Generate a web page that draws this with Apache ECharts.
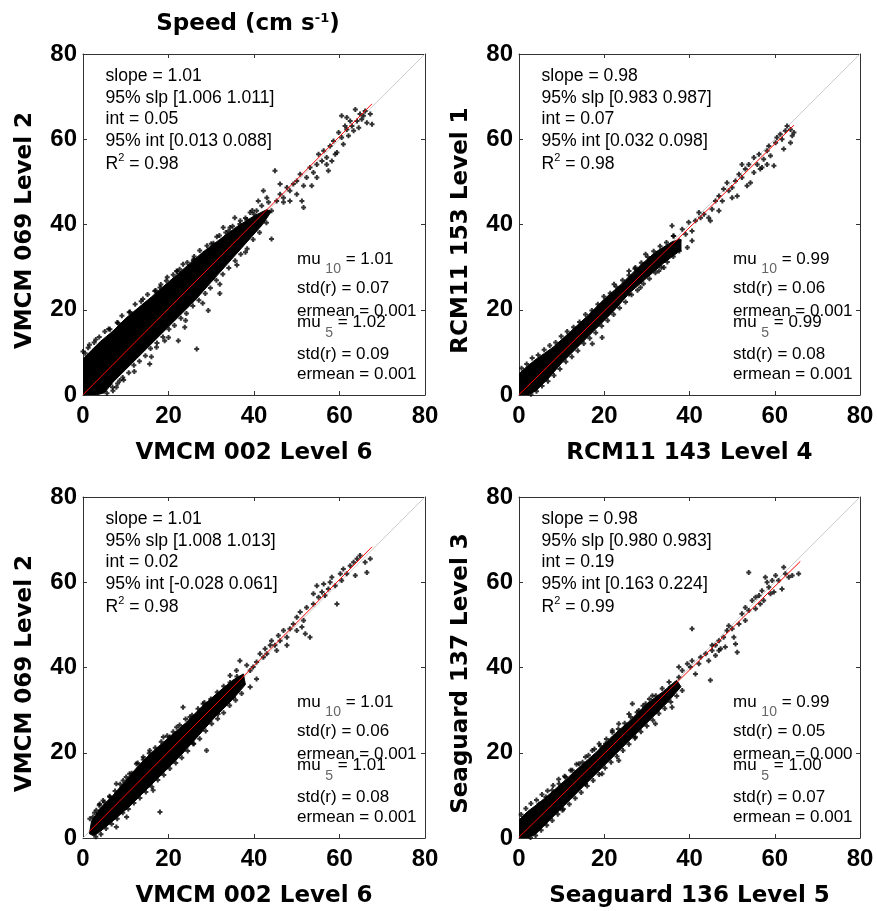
<!DOCTYPE html>
<html><head><meta charset="utf-8">
<script src="https://cdn.jsdelivr.net/npm/echarts@6/dist/echarts.min.js"></script>
<style>html,body{margin:0;padding:0;background:#fff}#c{width:877px;height:911px}</style>
</head><body><div id="c"></div>
<script>
// ---------- data ----------
const tickValues = [0, 20, 40, 60, 80];
const titleMain = 'Speed (cm s';
const titleSup = '-1';
const xNames = ['VMCM 002 Level 6', 'RCM11 143 Level 4', 'VMCM 002 Level 6', 'Seaguard 136 Level 5'];
const yNames = ['VMCM 069 Level 2', 'RCM11 153 Level 1', 'VMCM 069 Level 2', 'Seaguard 137 Level 3'];

const slopeVals = ['1.01', '0.98', '1.01', '0.98'];
const slopeCI = ['[1.006 1.011]', '[0.983 0.987]', '[1.008 1.013]', '[0.980 0.983]'];
const intVals = ['0.05', '0.07', '0.02', '0.19'];
const intCI = ['[0.013 0.088]', '[0.032 0.098]', '[-0.028 0.061]', '[0.163 0.224]'];
const r2Vals = ['0.98', '0.98', '0.98', '0.99'];
const mu10Vals = ['1.01', '0.99', '1.01', '0.99'];
const std10Vals = ['0.07', '0.06', '0.06', '0.05'];
const erm10Vals = ['0.001', '0.001', '0.001', '0.000'];
const mu5Vals = ['1.02', '0.99', '1.01', '1.00'];
const std5Vals = ['0.09', '0.08', '0.08', '0.07'];
const erm5Vals = ['0.001', '0.001', '0.001', '0.001'];

const diagLine = [[0, 0], [80, 80]];
const fit1 = [[0, 0.05], [67.6, 68.3]];
const fit2 = [[0, 0.07], [64.5, 63.3]];
const fit3 = [[1.5, 1.54], [67.6, 68.3]];
const fit4 = [[0, 0.19], [66.0, 64.9]];

// dense cores (outline of the solid black cloud)
const core1 = [[0,0],[0,8.5],[2,10.5],[4,12.5],[7,15],[10,18],[13,20.5],[16,23],[20,26.5],[24,30],[28,33.5],[32,36.5],[36,39.5],[40,42],[43,43.5],[44,43],[42,40],[38,35.5],[34,31],[30,26.5],[26,22],[22,18],[18,14],[14,10],[10,6],[7,3],[5,0.5],[3,0]];
const core2 = [[0,0],[0,5],[2,6.8],[4,8.4],[6,9.8],[8,11.2],[10,13],[12,14.8],[16,18.5],[20,22.5],[24,26],[28,30],[32,33.5],[36,36],[38,36.5],[38,34],[34,31],[30,27.5],[26,24],[22,19.5],[18,15.5],[14,11.5],[10,7.5],[7,4],[4,1],[2,0]];
const core3 = [[1.5,1],[2,4],[4,7],[7,10],[10,13.5],[13,17],[16,20],[20,23.5],[24,27],[28,31],[32,34.5],[35,37],[37.5,38.5],[38,36],[35,32.5],[31,28.5],[27,24],[23,19.5],[19,15.5],[15,11.5],[11,7.5],[7,4],[4,1.5],[2.5,0.5]];
const core4 = [[0,0],[0,4.2],[2,6.2],[4,7.7],[6,9.3],[8,11],[10,12.8],[14,16.5],[18,20],[22,24],[26,27.5],[30,31.5],[34,34.5],[37,37],[38,35.5],[35,32],[31,28],[27,24],[23,20],[19,16],[15,12],[11,8],[7,4],[4,1],[2,0]];

// individual points
const pts1 = [[40.6,43.2],[41.8,44.4],[42.6,42.4],[43.4,45.2],[44.1,43.2],[44.9,52.6],[45.3,45.5],[46.1,47.1],[46.9,46.3],[47.7,48.7],[48.4,47.9],[49.2,49.5],[50.0,50.2],[50.8,51.8],[51.2,45.5],[51.6,49.1],[52.3,51.0],[53.1,53.4],[53.9,52.2],[54.7,54.1],[55.1,56.5],[55.9,54.9],[56.3,57.3],[57.0,55.7],[57.4,52.6],[57.8,58.4],[58.6,59.6],[59.4,56.9],[59.8,61.6],[60.5,60.4],[60.9,58.8],[61.3,63.1],[61.7,62.3],[62.1,60.8],[62.5,64.3],[62.9,63.1],[63.3,62.0],[63.7,67.0],[64.1,64.3],[64.5,62.7],[64.8,65.9],[65.2,64.7],[65.6,65.5],[66.0,66.6],[66.4,63.9],[67.2,65.9],[67.6,63.5],[60.5,65.5],[61.7,65.1],[59.0,56.5],[57.0,54.1],[58.2,54.9],[54.7,51.0],[53.5,49.1],[51.6,44.0],[50.0,47.1],[48.4,45.5],[46.9,45.2],[46.1,49.5],[44.1,36.6],[43.0,46.3],[42.2,47.9],[41.0,45.5],[40.0,42.4],[39.1,42.8],[38.7,40.5],[37.5,39.3],[36.7,40.1],[35.9,37.7],[35.5,41.6],[34.4,39.3],[33.6,37.3],[32.8,39.3],[32.0,23.8],[31.3,37.1],[30.9,33.0],[29.3,19.8],[28.9,29.9],[26.6,10.8],[25.8,31.5],[25.0,28.4],[23.4,30.7],[23.8,15.9],[22.3,12.7],[21.9,29.1],[20.3,26.0],[19.5,26.8],[18.8,23.7],[18.0,25.2],[19.1,12.7],[17.2,11.2],[15.6,7.3],[14.8,21.3],[14.1,20.5],[13.3,19.8],[12.5,17.4],[11.7,16.6],[10.9,15.1],[9.4,12.7],[8.6,3.4],[7.8,1.8],[7.0,1.0],[6.3,2.6],[0,10.2],[1.5,11.8],[9.5,3.5],[12,5.5],[16,9],[20,13.5],[24,17.5],[28,21.5],[32,26],[36,30.5],[38,33.5],[3,13],[6,15.5],[8,17],[11,19.5],[14,22.5],[17,24.5],[22,29],[26,32.5],[30,35.5],[34,38.5],[38,41.5]];
const pts2 = [[36.3,37.3],[37.5,36.2],[38.3,38.9],[39.1,37.7],[39.8,40.5],[40.6,38.5],[41.4,40.9],[42.6,41.6],[43.4,42.4],[44.9,40.9],[45.3,43.6],[46.1,45.5],[46.9,46.7],[47.7,45.5],[48.0,48.3],[48.8,49.8],[49.2,47.9],[50.0,46.3],[50.8,50.2],[51.2,46.7],[51.6,51.8],[52.3,51.0],[53.1,53.0],[53.5,49.1],[54.3,49.8],[55.1,52.2],[55.9,54.1],[56.3,56.5],[57.0,53.4],[57.4,55.3],[58.2,57.3],[58.6,58.4],[59.0,56.1],[59.8,53.8],[60.2,59.2],[60.5,60.4],[61.3,61.2],[61.7,60.0],[62.5,62.0],[62.9,63.1],[63.7,62.3],[64.1,60.8],[64.5,61.6],[63.7,59.2],[62.1,57.7],[58.2,54.1],[56.6,53.0],[55.1,55.7],[53.9,54.1],[52.3,54.1],[50.0,48.7],[46.9,43.2],[44.5,41.6],[42.2,42.8],[40.6,36.2],[39.5,34.6],[35.9,39.7],[31.3,32.3],[29.7,33.0],[27.3,29.9],[25.8,29.1],[24.2,25.2],[22.3,26.0],[20.3,20.5],[18.8,19.8],[15.6,16.6],[14.1,15.1],[11.7,12.7],[9.4,11.2],[7.8,9.6],[17.2,12.0],[19.5,13.5],[25.8,23.7],[28.5,25.2],[32.8,29.1],[34.0,29.9]];
const pts3 = [[36.7,41.6],[38.3,40.5],[39.1,39.3],[39.8,40.1],[40.6,41.3],[41.4,43.2],[42.6,44.4],[43.0,43.2],[43.8,45.2],[44.1,46.3],[44.9,45.2],[45.7,47.5],[46.1,46.3],[46.9,48.7],[47.7,47.1],[48.4,49.1],[49.2,50.2],[50.0,51.8],[50.8,53.0],[51.2,49.5],[51.6,51.0],[52.0,47.9],[53.1,47.1],[53.9,54.9],[54.7,59.2],[55.1,56.5],[55.9,57.7],[56.6,56.9],[57.4,58.4],[57.8,60.0],[58.2,61.2],[59.0,59.2],[59.4,54.9],[60.2,62.0],[60.9,63.1],[61.7,62.0],[62.5,63.9],[63.3,64.7],[64.1,65.5],[64.8,66.3],[66.0,64.7],[66.4,62.3],[67.2,65.5],[63.7,61.6],[60.5,60.4],[56.3,59.6],[53.9,57.3],[52.3,54.1],[50.0,48.7],[47.7,45.2],[45.3,44.0],[42.2,42.4],[40.6,37.3],[39.1,35.4],[35.9,39.3],[34.4,38.1],[32.8,33.8],[31.3,33.0],[28.9,20.5],[28.1,31.5],[23.4,30.7],[25.0,28.4],[21.9,26.0],[20.3,23.7],[18.8,23.7],[18.0,6.1],[16.4,11.2],[15.6,20.5],[14.1,19.0],[12.5,17.4],[10.9,15.1],[9.4,13.5],[7.8,12.7],[6.3,9.6],[4.7,8.8],[3.9,8.0],[3.1,6.5],[2.3,4.9],[7.8,2.6],[10.2,4.9],[11.7,9.6],[25.8,22.1],[31.6,29.1],[35.2,33.0]];
const pts4 = [[37.5,37.7],[38.3,39.3],[39.5,40.9],[40.2,40.1],[40.6,41.6],[41.4,38.5],[42.6,42.4],[43.8,43.2],[44.9,37.0],[45.3,44.0],[46.1,45.2],[46.9,46.3],[47.3,44.4],[48.0,47.1],[48.8,48.7],[49.2,49.8],[50.0,49.1],[50.4,47.1],[50.8,45.5],[51.2,43.6],[51.6,50.2],[52.3,52.6],[53.1,54.1],[53.9,53.4],[54.7,55.7],[55.5,56.5],[56.3,56.9],[56.6,54.9],[57.0,58.0],[57.8,61.2],[58.2,60.0],[58.6,58.8],[59.0,57.3],[59.4,60.4],[60.2,61.6],[60.9,60.4],[61.7,58.4],[62.1,63.5],[62.5,62.0],[63.3,61.2],[64.1,61.6],[65.6,62.0],[53.9,62.3],[59.8,57.7],[57.4,55.7],[55.5,53.8],[53.1,51.0],[48.4,44.8],[46.1,42.8],[40.6,49.1],[38.3,34.6],[36.7,36.2],[35.5,35.4],[34.4,33.8],[32.8,33.0],[31.3,33.4],[29.7,31.5],[28.1,29.9],[26.6,31.5],[25.8,29.1],[23.4,26.8],[21.9,25.2],[22.7,20.5],[20.3,22.1],[18.8,22.1],[17.2,20.5],[15.6,19.0],[14.1,17.4],[12.5,15.9],[10.9,14.3],[9.4,12.7],[7.8,11.2],[6.3,9.6],[4.7,8.0],[10.2,6.5],[11.7,10.4],[15.6,12.7],[19.5,15.1],[23.4,18.2],[27.3,23.7],[32.0,26.8],[35.9,30.7],[45.3,45.2],[46.9,44.0],[44.5,41.6],[42.2,40.9],[37.5,40.1]];

// points along the ragged edges of the dense clouds
const edge1 = [[0.5,9.8],[1.2,11.1],[2.6,12.3],[3.8,13.6],[5.1,14.9],[6.3,15.4],[8.2,16.9],[9.1,18.6],[10.8,19.4],[12.2,21.3],[13.6,22.0],[15.1,23.6],[16.8,24.4],[18.2,25.9],[19.7,27.6],[21.1,28.2],[22.6,29.5],[24.4,31.1],[25.9,31.8],[27.3,33.9],[29.0,35.0],[30.5,35.6],[31.9,37.4],[33.4,38.1],[35.0,39.6],[36.8,40.9],[38.3,41.2],[39.6,43.3],[5.6,0.4],[6.9,1.8],[8.1,2.7],[9.3,4.1],[10.7,5.2],[11.9,7.0],[13.2,7.9],[14.6,9.2],[15.8,10.9],[17.3,12.2],[18.7,13.6],[20.1,15.4],[21.4,16.3],[22.9,18.0],[24.2,19.1],[25.7,20.9],[27.1,22.2],[28.6,23.8],[29.8,25.1],[31.2,26.9],[32.7,28.3],[34.1,29.8],[35.6,31.5],[36.9,33.0],[38.4,34.3],[39.8,36.5],[41.3,38.1],[42.9,40.4]];
const edge2 = [[0.6,6.3],[1.8,7.3],[3.1,8.7],[4.5,9.4],[5.9,10.6],[7.2,11.6],[8.6,12.3],[9.9,13.8],[11.3,14.9],[12.8,15.9],[14.2,17.1],[15.6,18.9],[17.1,19.8],[18.5,21.3],[19.9,23.1],[21.4,23.9],[22.8,25.4],[24.3,26.9],[25.8,28.1],[27.2,29.6],[28.7,31.0],[30.2,32.4],[31.6,33.7],[33.1,34.9],[34.6,35.8],[36.2,37.3],[2.8,0.2],[4.1,0.9],[5.4,2.1],[6.8,3.2],[8.2,4.6],[9.6,6.1],[11.0,7.8],[12.4,9.0],[13.8,10.4],[15.2,12.1],[16.6,13.3],[18.0,14.6],[19.4,16.2],[20.8,17.5],[22.2,18.9],[23.6,20.4],[25.0,21.8],[26.4,23.5],[27.8,24.6],[29.2,26.1],[30.6,27.3],[32.0,28.7],[33.4,29.9],[34.8,31.2],[36.2,32.5],[37.6,33.8]];
const edge3 = [[1.6,4.5],[2.7,5.9],[3.8,7.7],[5.0,8.4],[6.2,9.8],[7.5,11.0],[8.7,12.6],[10.1,14.3],[11.4,15.2],[12.8,17.6],[14.1,18.4],[15.5,19.9],[16.9,21.2],[18.3,22.6],[19.7,24.0],[21.1,24.9],[22.6,26.5],[24.0,27.9],[25.5,28.8],[26.9,30.3],[28.4,31.8],[29.9,32.6],[31.4,34.2],[32.9,35.6],[34.4,36.5],[36.0,37.9],[3.0,0.3],[4.2,0.9],[5.4,2.2],[6.7,3.3],[8.0,4.5],[9.3,5.9],[10.6,6.8],[11.9,8.2],[13.3,9.4],[14.7,10.8],[16.1,12.0],[17.5,13.6],[18.9,14.8],[20.3,16.3],[21.7,17.6],[23.1,18.8],[24.5,20.4],[25.9,22.1],[27.3,23.3],[28.7,25.1],[30.1,26.8],[31.5,28.0],[32.9,29.4],[34.3,31.1],[35.7,32.3],[37.1,33.9]];
const edge4 = [[0.5,5.5],[1.6,6.9],[2.8,8.1],[4.1,8.9],[5.4,10.2],[6.7,11.1],[8.0,12.3],[9.3,13.8],[10.7,14.5],[12.1,15.9],[13.5,17.3],[14.9,17.8],[16.3,19.4],[17.7,20.9],[19.1,21.6],[20.5,23.2],[21.9,24.8],[23.3,25.6],[24.8,26.9],[26.2,28.4],[27.7,29.5],[29.1,31.0],[30.6,32.6],[32.1,33.4],[33.6,35.1],[35.2,36.6],[2.7,0.1],[3.9,0.6],[5.2,1.8],[6.5,3.0],[7.8,4.1],[9.1,5.6],[10.4,6.8],[11.8,7.9],[13.2,9.3],[14.6,10.7],[16.0,12.2],[17.4,13.5],[18.8,14.9],[20.2,16.4],[21.6,17.8],[23.0,19.1],[24.4,20.5],[25.8,22.0],[27.2,23.4],[28.6,24.9],[30.0,26.3],[31.4,27.6],[32.8,29.2],[34.2,30.4],[35.6,31.9],[37.0,33.3]];

// ---------- layout ----------
const FONT = '"Liberation Sans", Arial, Helvetica, sans-serif';
const BFONT = '"DejaVu Sans", "Liberation Sans", sans-serif';
const grids = [
  {left: 83, top: 54, width: 342, height: 341},
  {left: 519, top: 54, width: 341, height: 341},
  {left: 83, top: 497, width: 342, height: 341},
  {left: 519, top: 497, width: 341, height: 341}
];
const cores = [core1, core2, core3, core4];
const ptsAll = [pts1.concat(edge1), pts2.concat(edge2), pts3.concat(edge3), pts4.concat(edge4)];
const fits = [fit1, fit2, fit3, fit4];

const axisLineStyle = {color: '#333', width: 1};
const tickMin = tickValues[0], tickMax = tickValues[tickValues.length - 1], tickStep = tickValues[1] - tickValues[0];
function mainX(i) {
  return {
    type: 'value', gridIndex: i, position: 'bottom', min: tickMin, max: tickMax, interval: tickStep,
    name: xNames[i], nameLocation: 'middle', nameGap: 47,
    nameTextStyle: {fontFamily: BFONT, fontWeight: 'bold', fontSize: 23, color: '#000'},
    axisLine: {show: true, onZero: false, lineStyle: axisLineStyle},
    axisTick: {show: true, inside: true, length: 4, lineStyle: axisLineStyle},
    axisLabel: {show: true, margin: 9, fontFamily: FONT, fontWeight: 'bold', fontSize: 24, color: '#000', showMinLabel: true, showMaxLabel: true},
    splitLine: {show: false}
  };
}
function boxX(i) {
  return {
    type: 'value', gridIndex: i, position: 'top', min: tickMin, max: tickMax, interval: tickStep,
    axisLine: {show: true, onZero: false, lineStyle: axisLineStyle},
    axisTick: {show: true, inside: true, length: 4, lineStyle: axisLineStyle},
    axisLabel: {show: false}, splitLine: {show: false}
  };
}
function mainY(i) {
  return {
    type: 'value', gridIndex: i, position: 'left', min: tickMin, max: tickMax, interval: tickStep,
    name: yNames[i], nameLocation: 'middle', nameGap: 46,
    nameTextStyle: {fontFamily: BFONT, fontWeight: 'bold', fontSize: 23, color: '#000', padding: [0, 12, 0, 0]},
    axisLine: {show: true, onZero: false, lineStyle: axisLineStyle},
    axisTick: {show: true, inside: true, length: 4, lineStyle: axisLineStyle},
    axisLabel: {show: true, margin: 6, fontFamily: FONT, fontWeight: 'bold', fontSize: 24, color: '#000', showMinLabel: true, showMaxLabel: true},
    splitLine: {show: false}
  };
}
function boxY(i) {
  return {
    type: 'value', gridIndex: i, position: 'right', min: tickMin, max: tickMax, interval: tickStep,
    axisLine: {show: true, onZero: false, lineStyle: axisLineStyle},
    axisTick: {show: true, inside: true, length: 4, lineStyle: axisLineStyle},
    axisLabel: {show: false}, splitLine: {show: false}
  };
}

const xAxes = [], yAxes = [], series = [];
for (let i = 0; i < 4; i++) { xAxes.push(mainX(i)); yAxes.push(mainY(i)); }
for (let i = 0; i < 4; i++) { xAxes.push(boxX(i)); yAxes.push(boxY(i)); }
const PLUS = 'path://M1.5,0H3.5V1.5H5V3.5H3.5V5H1.5V3.5H0V1.5H1.5Z';
for (let i = 0; i < 4; i++) {
  const coreData = cores[i];
  series.push({
    type: 'line', xAxisIndex: i, yAxisIndex: i, data: diagLine, showSymbol: false, symbol: 'none',
    lineStyle: {color: '#cccccc', width: 1}, silent: true, z: 1
  });
  series.push({
    type: 'custom', xAxisIndex: i, yAxisIndex: i, clip: true, silent: true,
    data: coreData,
    renderItem: function (params, api) {
      if (params.dataIndex !== 0) return null;
      const pts = coreData.map(p => api.coord(p));
      return {type: 'polygon', shape: {points: pts}, style: {fill: '#000', stroke: '#000', lineWidth: 1}};
    },
    z: 2
  });
  series.push({
    type: 'scatter', xAxisIndex: i, yAxisIndex: i, data: ptsAll[i],
    symbol: PLUS, symbolSize: 5, itemStyle: {color: '#000'}, silent: true, z: 3
  });
  series.push({
    type: 'line', xAxisIndex: i, yAxisIndex: i, data: fits[i], showSymbol: false, symbol: 'none',
    lineStyle: {color: '#ff0000', width: 1}, silent: true, z: 5
  });
}

// ---------- text helper ----------
const mctx = document.createElement('canvas').getContext('2d');
function fontStr(size, bold, fam) { return (bold ? 'bold ' : '') + size + 'px ' + (fam || FONT); }
function tw(t, size, bold, fam) { mctx.font = fontStr(size, bold, fam); return mctx.measureText(t).width; }
const graphics = [];
function addLine(x, y, parts) {
  let cx = x;
  for (const p of parts) {
    const size = p.size || 17;
    graphics.push({
      type: 'text', x: cx, y: y + (p.dy || 0), silent: true, z: 100,
      style: {text: p.t, font: fontStr(size, p.bold, p.fam), fill: p.color || '#000',
              align: 'left', verticalAlign: 'middle', textAlign: 'left', textVerticalAlign: 'middle'}
    });
    cx += tw(p.t, size, p.bold, p.fam);
  }
}

// title
(function () {
  const w = tw(titleMain, 23, true, BFONT) + tw(titleSup, 13, true, BFONT) + tw(')', 23, true, BFONT);
  addLine(248 - w / 2, 24, [
    {t: titleMain, size: 23, bold: true, fam: BFONT},
    {t: titleSup, size: 13, bold: true, fam: BFONT, dy: -5},
    {t: ')', size: 23, bold: true, fam: BFONT}
  ]);
})();

for (let i = 0; i < 4; i++) {
  const g = grids[i];
  const lx = g.left + 22.5, ty = g.top;
  const U = 17.6;
  addLine(lx, ty + 22, [{t: 'slope = ' + slopeVals[i], size: U}]);
  addLine(lx, ty + 43.7, [{t: '95% slp ' + slopeCI[i], size: U}]);
  addLine(lx, ty + 65.3, [{t: 'int = ' + intVals[i], size: U}]);
  addLine(lx, ty + 86.7, [{t: '95% int ' + intCI[i], size: U}]);
  addLine(lx, ty + 110.5, [{t: 'R', size: U}, {t: '2', size: 11, dy: -6.5}, {t: ' = ' + r2Vals[i], size: U}]);
  const rx = g.left + 214;
  addLine(rx, ty + 205.7, [{t: 'mu '}, {t: '10', size: 14, dy: 9, color: '#666'}, {t: ' = ' + mu10Vals[i]}]);
  addLine(rx, ty + 234.7, [{t: 'std(r) = ' + std10Vals[i]}]);
  addLine(rx, ty + 257, [{t: 'ermean = ' + erm10Vals[i]}]);
  addLine(rx, ty + 268.7, [{t: 'mu '}, {t: '5', size: 14, dy: 10, color: '#666'}, {t: ' = ' + mu5Vals[i]}]);
  addLine(rx, ty + 300.3, [{t: 'std(r) = ' + std5Vals[i]}]);
  addLine(rx, ty + 320.3, [{t: 'ermean = ' + erm5Vals[i]}]);
}

const chart = echarts.init(document.getElementById('c'), null, {renderer: 'canvas'});
chart.setOption({
  animation: false,
  backgroundColor: '#fff',
  grid: grids.map(g => Object.assign({containLabel: false}, g)),
  xAxis: xAxes,
  yAxis: yAxes,
  series: series,
  graphic: graphics
});
</script>
</body></html>
